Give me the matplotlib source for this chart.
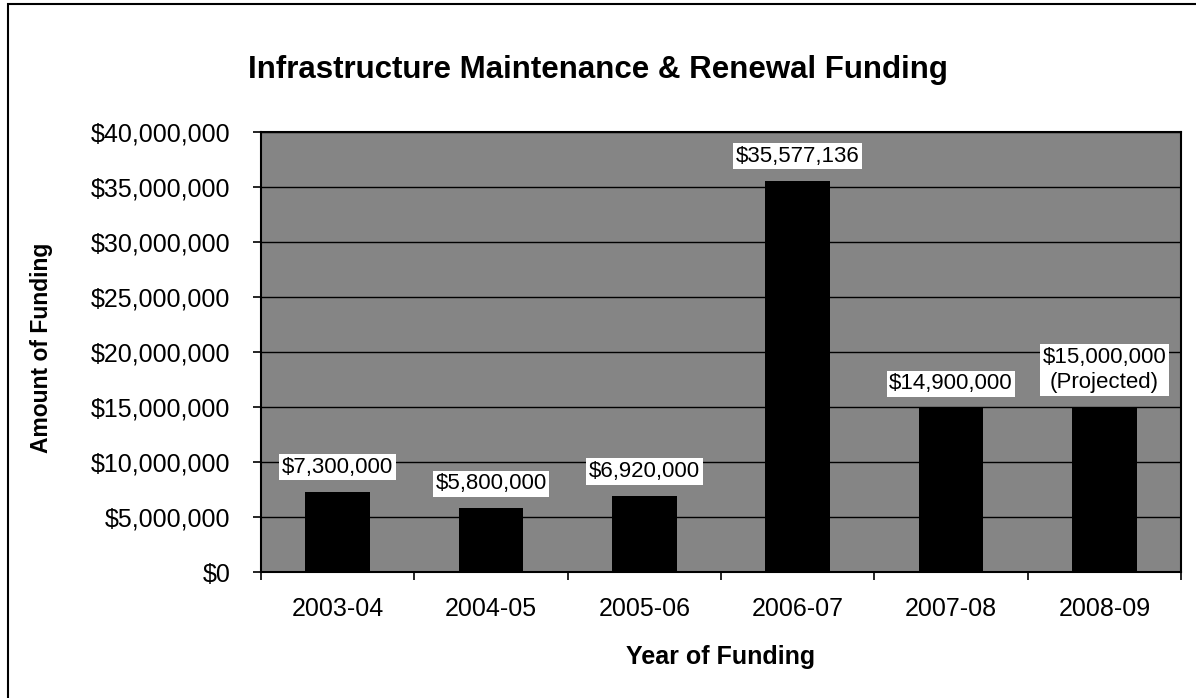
import numpy as np
import matplotlib
matplotlib.use("Agg")
import matplotlib.pyplot as plt
from matplotlib.patches import Rectangle
from matplotlib.ticker import FuncFormatter, MultipleLocator

# data
years = ["2003-04", "2004-05", "2005-06", "2006-07", "2007-08", "2008-09"]
funding = [7300000, 5800000, 6920000, 35577136, 14900000, 15000000]
notes = ["", "", "", "", "", "(Projected)"]

plt.rcParams["font.family"] = ["Liberation Sans", "DejaVu Sans"]


def money(v, pos=None):
    return "${:,.0f}".format(v)


fig = plt.figure(figsize=(11.96, 6.98), dpi=100)
ax = fig.add_axes([261/1196, 1 - 572/698, 920/1196, 440/698])

x = np.arange(len(years))
ax.set_facecolor("#858585")
ax.set_axisbelow(True)
ax.yaxis.grid(True, color="black", linewidth=1.0)
ax.bar(x, funding, width=0.42, color="black", zorder=3)

ax.set_xlim(-0.5, len(years) - 0.5)
ax.set_ylim(0, 40000000)
ax.yaxis.set_major_locator(MultipleLocator(5000000))
ax.yaxis.set_major_formatter(FuncFormatter(money))

# ticks sit between categories, labels sit under them
ax.set_xticks(np.arange(len(years) + 1) - 0.5)
ax.set_xticklabels([])
ax.set_xticks(x, minor=True)
ax.set_xticklabels(years, minor=True)
ax.tick_params(axis="x", which="major", length=6, width=1.2)
ax.tick_params(axis="x", which="minor", length=0, pad=18, labelsize=18)
ax.tick_params(axis="y", length=6, width=1.2, pad=16, labelsize=18)

for s in ax.spines.values():
    s.set_linewidth(1.5)
    s.set_color("black")

for xi, v, n in zip(x, funding, notes):
    txt = money(v)
    if n:
        txt += "\n" + n
    ax.annotate(txt, (xi, v), xytext=(0, 10), textcoords="offset points",
                ha="center", va="bottom", fontsize=16, linespacing=1.25,
                bbox=dict(facecolor="white", edgecolor="none", pad=2), zorder=4)

ax.set_ylabel("Amount of Funding", fontsize=16.5, fontweight="bold")
ax.yaxis.set_label_coords(-0.226, 0.509)
ax.set_xlabel("Year of Funding", fontsize=18, fontweight="bold")
ax.xaxis.set_label_coords(0.5, -0.166)

fig.text(598/1196, 1 - 70/698, "Infrastructure Maintenance & Renewal Funding",
         ha="center", va="center", fontsize=22.5, fontweight="bold")

# outer chart border (cut off at right and bottom in the original)
fig.patches.append(Rectangle((8/1196, -0.05), 1.2, 1.05 - 4/698,
                             transform=fig.transFigure, fill=False,
                             edgecolor="black", linewidth=1.5))

fig.savefig("out.png", dpi=100)
